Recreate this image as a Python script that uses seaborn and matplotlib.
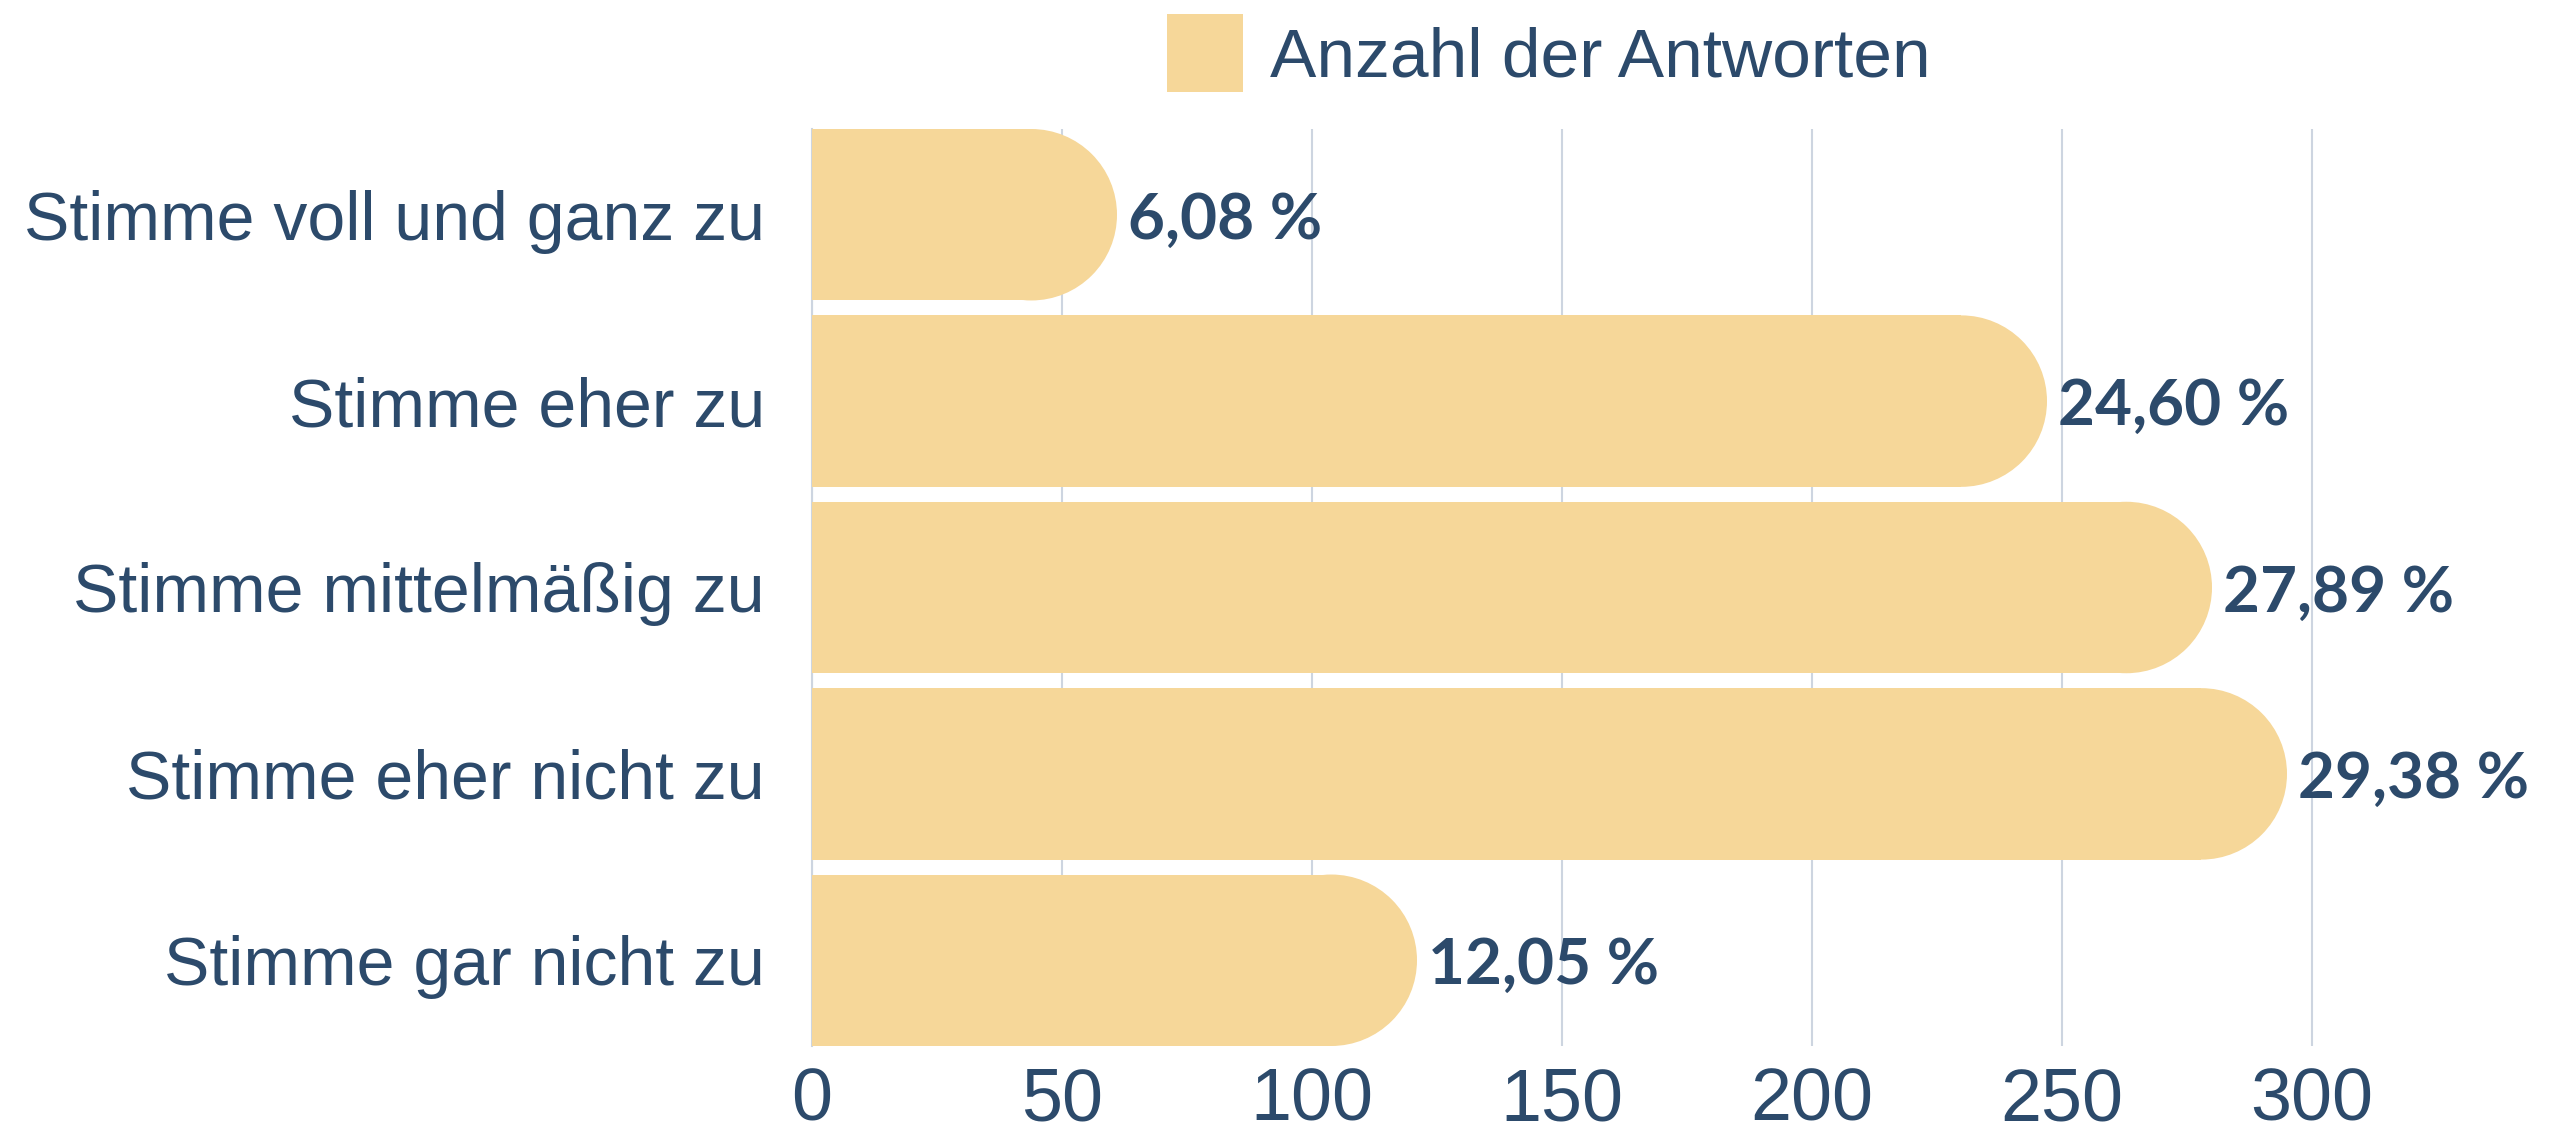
import matplotlib
matplotlib.use("Agg")
import matplotlib.pyplot as plt
from matplotlib.patches import Ellipse, Rectangle
import seaborn as sns
import pandas as pd

# ---- data ----
categories = ["Stimme voll und ganz zu", "Stimme eher zu", "Stimme mittelmäßig zu",
              "Stimme eher nicht zu", "Stimme gar nicht zu"]
counts = [61, 247, 280, 295, 121]
percent_labels = ["6,08 %", "24,60 %", "27,89 %", "29,38 %", "12,05 %"]
series_name = "Anzahl der Antworten"
x_ticks = [0, 50, 100, 150, 200, 250, 300]

BAR = "#F6D799"
TEXT = "#2C4A6B"
GRID = "#CDD5E0"

sns.set_theme(style="white")
plt.rcParams['font.family'] = ['Liberation Sans', 'DejaVu Sans']

W, H, DPI = 2562, 1135, 100
fig = plt.figure(figsize=(W / DPI, H / DPI), dpi=DPI)
fig.patch.set_facecolor("white")
ax = fig.add_axes([812 / W, (H - 1046) / H, (W - 812) / W, 917 / H])

df = pd.DataFrame({"Antwort": categories, "Anzahl": counts})
sns.barplot(data=df, y="Antwort", x="Anzahl", order=categories, color=BAR,
            saturation=1, width=0.92, orient="h", ax=ax)

ax.set_xlim(0, 350)
ax.set_ylim(4.46, -0.46)

# rounded right ends (semicircle)
ppx = ax.transData.transform((1, 0))[0] - ax.transData.transform((0, 0))[0]
ppy = abs(ax.transData.transform((0, 1))[1] - ax.transData.transform((0, 0))[1])
for p in list(ax.patches):
    x0, y0, w, h = p.get_x(), p.get_y(), p.get_width(), p.get_height()
    r_x = (h / 2) * ppy / ppx
    p.set_width(w - r_x)
    p.set_linewidth(0)
    p.set_zorder(2)
    ax.add_patch(Ellipse((x0 + w - r_x, y0 + h / 2), 2 * r_x, h,
                         facecolor=BAR, edgecolor="none", zorder=2))

ax.set_xticks(x_ticks)
ax.grid(axis="x", color=GRID, linewidth=1.5)
ax.grid(axis="y", visible=False)
ax.set_axisbelow(True)
for s in ["top", "right", "bottom"]:
    ax.spines[s].set_visible(False)
ax.spines["left"].set_color(GRID)
ax.spines["left"].set_linewidth(1.5)
ax.spines["left"].set_zorder(1)

ax.tick_params(axis="x", length=0, pad=15, labelsize=53, labelcolor=TEXT)
ax.tick_params(axis="y", length=0, pad=34, labelsize=49, labelcolor=TEXT)
ax.set_xlabel("")
ax.set_ylabel("")

for i, (v, lab) in enumerate(zip(counts, percent_labels)):
    ax.annotate(lab, xy=(v, i), xytext=(8, -4), textcoords="offset points",
                va="center", ha="left", fontsize=46, fontweight="bold",
                color=TEXT, family=["Lato", "DejaVu Sans"])

handle = Rectangle((0, 0), 1, 1, facecolor=BAR, edgecolor="none")
fig.legend([handle], [series_name], loc="center left",
           bbox_to_anchor=(1167 / W, 1 - 53 / H), frameon=False, fontsize=50,
           handlelength=1.1, handleheight=1.33, handletextpad=0.38,
           borderpad=0, borderaxespad=0, labelcolor=TEXT)

fig.savefig("out.png", dpi=DPI)
